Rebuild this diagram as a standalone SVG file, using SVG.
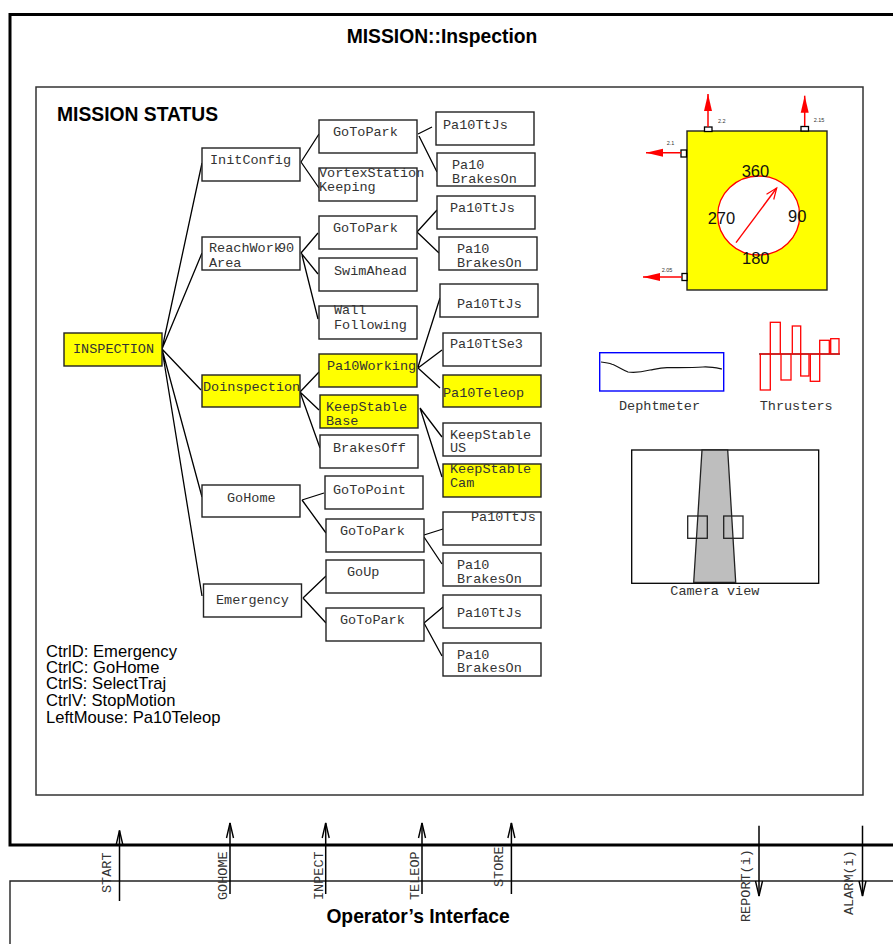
<svg xmlns="http://www.w3.org/2000/svg" width="893" height="944" viewBox="0 0 893 944">
<style>
.n{fill:#fff;stroke:#222;stroke-width:1.4}
.y{fill:#ff0;stroke:#222;stroke-width:1.4}
.t{font-family:"Liberation Mono",monospace;font-size:13.5px;fill:#333}
.b{font-family:"Liberation Sans",Arial,sans-serif;font-weight:bold;font-size:19.300px;fill:#000}
.k{font-family:"Liberation Sans",Arial,sans-serif;font-size:16.600px;fill:#000}
.c{font-family:"Liberation Sans",Arial,sans-serif;font-size:16.500px;fill:#111}
.s{font-family:"Liberation Sans",Arial,sans-serif;font-size:5.500px;fill:#333}
.l{stroke:#000;stroke-width:1.3;fill:none}
.a{stroke:#000;stroke-width:1.5;fill:none;marker-end:url(#open)}
.r{stroke:#f00;stroke-width:1.5;fill:none;marker-end:url(#red)}
.b2{fill:none;stroke:#f00;stroke-width:1.3}
</style>
<defs>
<marker id="open" markerUnits="userSpaceOnUse" markerWidth="20" markerHeight="12" refX="16" refY="6" orient="auto"><path d="M1,2.500 L16,6 L1,9.500" fill="none" stroke="#000" stroke-width="1.4"/></marker>
<marker id="red" markerUnits="userSpaceOnUse" markerWidth="20" markerHeight="12" refX="17" refY="6" orient="auto"><path d="M0,2 L17,6 L0,10 Z" fill="#f00"/></marker>
<marker id="ropen" markerUnits="userSpaceOnUse" markerWidth="14" markerHeight="12" refX="12" refY="6" orient="auto"><path d="M1,1.500 L12,6 L1,10.500" fill="none" stroke="#f00" stroke-width="1.2"/></marker>
</defs>
<rect width="893" height="944" fill="#fff"/>
<g id="frames">
<path d="M900,14.500 H10 V845 H900" fill="none" stroke="#000" stroke-width="3"/>
<rect x="36" y="87" width="827" height="708" fill="none" stroke="#333" stroke-width="1.5"/>
<path d="M900,881 H10 V950" fill="none" stroke="#222" stroke-width="1.4"/>
<text class="b" x="442" y="43" text-anchor="middle">MISSION::Inspection</text>
<text class="b" x="57" y="121">MISSION STATUS</text>
<text class="b" x="418" y="923" text-anchor="middle">Operator’s Interface</text>
</g>
<g id="connectors">
<path class="l" d="M162,349 L202,163 M162,349 L202,253 M162,349 L201,390 M162,349 L202,497 M162,349 L202,596"/>
<path class="l" d="M301,162 L319,134 M301,162 L319,188 M418,134 L432,127 M419,136 L437,172"/>
<path class="l" d="M301,253 L318,233 M301,253 L318,274 M302,255 L318,319 M417,232 L437,210 M417,232 L439,253"/>
<path class="l" d="M300,392 L319,372 M300,392 L319,410 M300,392 L320,448 M418,367 L440,298 M418,368 L442,350 M418,368 L440,388 M420,408 L442,437 M420,408 L442,477"/>
<path class="l" d="M302,500 L324,493 M302,500 L326,533 M424,535 L443,529 M424,537 L442,564"/>
<path class="l" d="M303,598 L326,576 M303,598 L326,623 M424,623 L443,607 M424,623 L442,656"/>
</g>
<g id="inspection"><rect class="y" x="64" y="333" width="98" height="33"/><text class="t" x="73" y="353">INSPECTION</text></g>
<g id="initconfig"><rect class="n" x="202" y="148" width="98" height="33"/><text class="t" x="210" y="164">InitConfig</text></g>
<g id="gotopark1"><rect class="n" x="319" y="120" width="98" height="33"/><text class="t" x="333" y="136">GoToPark</text></g>
<g id="pa10ttjs1"><rect class="n" x="436" y="112" width="98" height="33"/><text class="t" x="443" y="129">Pa10TtJs</text></g>
<g id="brakes1"><rect class="n" x="437" y="153" width="98" height="33"/><text class="t" x="452" y="169">Pa10</text><text class="t" x="452" y="183">BrakesOn</text></g>
<g id="vortex"><rect class="n" x="319" y="168" width="98" height="33"/><text class="t" x="319" y="177">VortexStation</text><text class="t" x="319" y="191">Keeping</text></g>
<g id="reachwork"><rect class="n" x="202" y="237" width="98" height="33"/><text class="t" x="209" y="252">ReachWork</text><text class="t" x="209" y="267">Area</text><text class="t" x="278" y="252">90</text></g>
<g id="gotopark2"><rect class="n" x="319" y="216" width="98" height="33"/><text class="t" x="333" y="232">GoToPark</text></g>
<g id="pa10ttjs2"><rect class="n" x="437" y="196" width="98" height="33"/><text class="t" x="450" y="212">Pa10TtJs</text></g>
<g id="brakes2"><rect class="n" x="439" y="237" width="98" height="33"/><text class="t" x="457" y="253">Pa10</text><text class="t" x="457" y="267">BrakesOn</text></g>
<g id="swimahead"><rect class="n" x="319" y="258" width="98" height="33"/><text class="t" x="334" y="275">SwimAhead</text></g>
<g id="wall"><rect class="n" x="319" y="306" width="98" height="33"/><text class="t" x="334" y="314">Wall</text><text class="t" x="334" y="329">Following</text></g>
<g id="pa10ttjs3"><rect class="n" x="440" y="284" width="98" height="33"/><text class="t" x="457" y="308">Pa10TtJs</text></g>
<g id="pa10ttse3"><rect class="n" x="443" y="333" width="98" height="33"/><text class="t" x="450" y="348">Pa10TtSe3</text></g>
<g id="doinspection"><rect class="y" x="202" y="375" width="98" height="32"/><text class="t" x="203" y="391">Doinspection</text></g>
<g id="pa10working"><rect class="y" x="319" y="354" width="98" height="33"/><text class="t" x="327" y="370">Pa10Working</text></g>
<g id="keepstablebase"><rect class="y" x="320" y="395" width="98" height="33"/><text class="t" x="326" y="411">KeepStable</text><text class="t" x="326" y="425">Base</text></g>
<g id="brakesoff"><rect class="n" x="320" y="435" width="98" height="33"/><text class="t" x="333" y="452">BrakesOff</text></g>
<g id="pa10teleop"><rect class="y" x="443" y="375" width="98" height="32"/><text class="t" x="443" y="397">Pa10Teleop</text></g>
<g id="keepstableus"><rect class="n" x="443" y="423" width="98" height="33"/><text class="t" x="450" y="439">KeepStable</text><text class="t" x="450" y="452">US</text></g>
<g id="keepstablecam"><rect class="y" x="443" y="464" width="98" height="33"/><text class="t" x="450" y="473">KeepStable</text><text class="t" x="450" y="487">Cam</text></g>
<g id="gohome"><rect class="n" x="202" y="485" width="98" height="32"/><text class="t" x="227" y="502">GoHome</text></g>
<g id="gotopoint"><rect class="n" x="325" y="476" width="98" height="33"/><text class="t" x="333" y="494">GoToPoint</text></g>
<g id="gotopark3"><rect class="n" x="326" y="519" width="98" height="33"/><text class="t" x="340" y="535">GoToPark</text></g>
<g id="pa10ttjs4"><rect class="n" x="443" y="512" width="98" height="33"/><text class="t" x="471" y="521">Pa10TtJs</text></g>
<g id="brakes3"><rect class="n" x="443" y="553" width="98" height="33"/><text class="t" x="457" y="569">Pa10</text><text class="t" x="457" y="583">BrakesOn</text></g>
<g id="emergency"><rect class="n" x="203.500" y="584" width="98" height="33"/><text class="t" x="216" y="604">Emergency</text></g>
<g id="goup"><rect class="n" x="326" y="560" width="98" height="33"/><text class="t" x="347" y="576">GoUp</text></g>
<g id="gotopark4"><rect class="n" x="326" y="608" width="98" height="33"/><text class="t" x="340" y="624">GoToPark</text></g>
<g id="pa10ttjs5"><rect class="n" x="443" y="595" width="98" height="33"/><text class="t" x="457" y="617">Pa10TtJs</text></g>
<g id="brakes4"><rect class="n" x="443" y="643" width="98" height="33"/><text class="t" x="457" y="659">Pa10</text><text class="t" x="457" y="672">BrakesOn</text></g>
<g id="keys">
<text class="k" x="46" y="657">CtrlD: Emergency</text>
<text class="k" x="46" y="673">CtrlC: GoHome</text>
<text class="k" x="46" y="689">CtrlS: SelectTraj</text>
<text class="k" x="46" y="706">CtrlV: StopMotion</text>
<text class="k" x="46" y="723">LeftMouse: Pa10Teleop</text>
</g>
<g id="compass">
<rect x="687" y="131" width="140" height="159" fill="#ff0" stroke="#222" stroke-width="1.400"/>
<ellipse cx="758.700" cy="215.500" rx="41" ry="39.500" fill="#fff" stroke="#f00" stroke-width="1.300"/>
<path d="M736,242.700 L776.700,188" stroke="#f00" stroke-width="1.400" fill="none" marker-end="url(#ropen)"/>
<rect x="704.500" y="127" width="7.500" height="4.500" fill="#fff" stroke="#000" stroke-width="1.300"/>
<rect x="801" y="126.500" width="7.500" height="4.500" fill="#fff" stroke="#000" stroke-width="1.300"/>
<rect x="681" y="150" width="5.500" height="7" fill="#fff" stroke="#000" stroke-width="1.300"/>
<rect x="682" y="273.500" width="5" height="7" fill="#fff" stroke="#000" stroke-width="1.300"/>
<path class="r" d="M708,127 V94"/><path class="r" d="M804.700,126 V95.700"/><path class="r" d="M681,152.700 H646"/><path class="r" d="M682,277 H643"/>
<text class="c" x="741.700" y="177">360</text><text class="c" x="707.700" y="224">270</text><text class="c" x="788" y="222">90</text><text class="c" x="742" y="264">180</text>
<text class="s" x="718" y="122.500">2.2</text><text class="s" x="813.700" y="121.500">2.15</text><text class="s" x="666.700" y="144.500">2.1</text><text class="s" x="661.700" y="271.500">2.05</text>
</g>
<g id="dephtmeter">
<rect x="599.700" y="352.700" width="124" height="38.300" fill="#fff" stroke="#00f" stroke-width="1.400"/>
<path d="M601,362 C606,362.500 609,363 612,364.300 C617,366 623,370 628,372 C633,372.800 640,372.500 650,370 C656,369 660,368 667,367.700 C675,367.500 690,368 703,367 C710,366.500 716,367.800 722,369" fill="none" stroke="#111" stroke-width="1.200"/>
<text class="t" x="619" y="410">Dephtmeter</text>
</g>
<g id="thrusters">
<path d="M759,354 H840" stroke="#444" stroke-width="1.500"/>
<rect class="b2" x="760.300" y="354" width="10" height="36"/>
<rect class="b2" x="770.300" y="322.300" width="10" height="31.700"/>
<rect class="b2" x="781" y="354" width="10" height="26"/>
<rect class="b2" x="792.300" y="326" width="8.400" height="28"/>
<rect class="b2" x="800.700" y="354" width="8.300" height="22"/>
<rect class="b2" x="810.300" y="354" width="9.400" height="27.300"/>
<rect class="b2" x="819.700" y="340.300" width="9.600" height="13.700"/>
<rect class="b2" x="830.700" y="338.700" width="8.300" height="15.300"/>
<text class="t" x="759.700" y="410">Thrusters</text>
</g>
<g id="camera">
<rect x="631.700" y="450" width="187" height="133.300" fill="#fff" stroke="#000" stroke-width="1.300"/>
<path d="M702,450 H727.700 L735.700,582.300 H693.700 Z" fill="#bebebe" stroke="#222" stroke-width="1.300"/>
<rect x="687.700" y="516" width="19.600" height="22.300" fill="none" stroke="#222" stroke-width="1.300"/>
<rect x="723.700" y="516" width="19.300" height="22.300" fill="none" stroke="#222" stroke-width="1.300"/>
<text class="t" x="670.300" y="595">Camera view</text>
</g>
<g id="signals">
<path class="a" d="M119.500,901 V830.500"/><path class="a" d="M230,894 V823"/><path class="a" d="M325.700,894 V823"/><path class="a" d="M422,894 V823"/><path class="a" d="M511.400,894 V823"/>
<path class="a" d="M759,825.700 V896"/><path class="a" d="M862.500,825.700 V896"/>
<text class="t" transform="translate(110.500,893) rotate(-90)">START</text>
<text class="t" transform="translate(227,900) rotate(-90)">GOHOME</text>
<text class="t" transform="translate(323,900) rotate(-90)">INPECT</text>
<text class="t" transform="translate(419,900) rotate(-90)">TELEOP</text>
<text class="t" transform="translate(503,887) rotate(-90)">STORE</text>
<text class="t" transform="translate(750,922) rotate(-90)">REPORT(i)</text>
<text class="t" transform="translate(853,915) rotate(-90)">ALARM(i)</text>
</g>
</svg>
